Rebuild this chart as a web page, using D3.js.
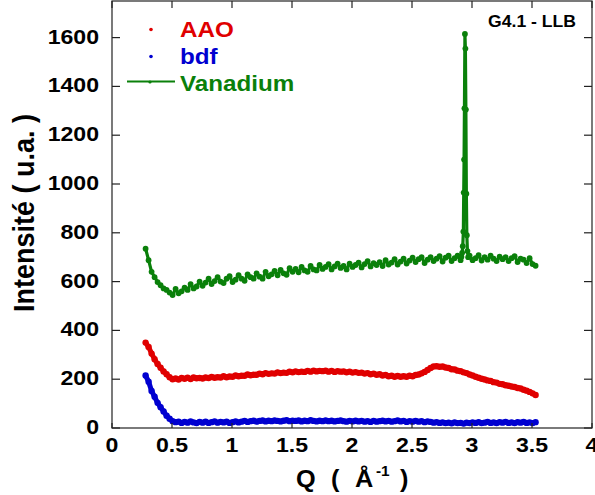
<!DOCTYPE html>
<html><head><meta charset="utf-8">
<script src="https://cdn.jsdelivr.net/npm/d3@7/dist/d3.min.js"></script>
<style>body{margin:0;background:#fff}svg{display:block}</style>
</head><body>
<script>
const qValues = [
0.28,0.305,0.33,0.355,0.38,0.405,0.43,0.455,0.48,0.505,
0.53,0.555,0.58,0.605,0.63,0.655,0.68,0.705,0.73,0.755,
0.78,0.805,0.83,0.855,0.88,0.905,0.93,0.955,0.98,1.005,
1.03,1.055,1.08,1.105,1.13,1.155,1.18,1.205,1.23,1.255,
1.28,1.305,1.33,1.355,1.38,1.405,1.43,1.455,1.48,1.505,
1.53,1.555,1.58,1.605,1.63,1.655,1.68,1.705,1.73,1.755,
1.78,1.805,1.83,1.855,1.88,1.905,1.93,1.955,1.98,2.005,
2.03,2.055,2.08,2.105,2.13,2.155,2.18,2.205,2.23,2.255,
2.28,2.305,2.33,2.355,2.38,2.405,2.43,2.455,2.48,2.505,
2.53,2.555,2.58,2.605,2.63,2.655,2.68,2.705,2.73,2.755,
2.78,2.805,2.83,2.855,2.88,2.905,2.93,2.955,2.98,3.005,
3.03,3.055,3.08,3.105,3.13,3.155,3.18,3.205,3.23,3.255,
3.28,3.305,3.33,3.355,3.38,3.405,3.43,3.455,3.48,3.505,
3.53];

const aaoValues = [
350,332,305,282,262,247,232,220,208,200,
203,199,205,202,206,201,207,204,205,203,
207,205,209,206,208,207,212,208,211,210,
215,212,214,214,219,216,218,218,223,220,
225,222,224,223,228,225,227,226,231,228,
232,229,231,230,234,231,235,232,234,233,
235,231,234,230,233,231,232,228,231,227,
229,226,227,223,225,220,223,218,220,215,
217,212,214,210,213,210,212,210,214,212,
217,219,224,230,238,246,252,253,251,252,
248,246,241,240,235,233,228,225,219,215,
210,206,202,199,195,193,188,186,181,179,
175,173,170,168,164,162,157,153,148,142,
135];

const bdfValues = [
215,190,152,128,103,85,68,50,38,28,
24,26,21,25,22,27,23,20,25,22,
26,21,24,27,22,25,23,26,21,24,
27,23,26,29,25,28,30,26,29,31,
27,30,28,31,29,27,30,32,28,30,
29,31,27,30,28,32,29,27,30,28,
31,28,30,27,29,31,28,26,29,27,
30,27,29,26,28,25,29,26,28,30,
27,29,26,28,31,27,29,25,28,26,
29,26,28,24,27,25,22,24,21,23,
20,22,19,23,20,21,18,22,20,23,
21,24,20,22,25,21,23,20,24,22,
25,21,23,20,24,22,25,21,23,20,
24];

const vanadiumValues = [
735,688,640,618,598,585,572,566,555,545,
570,552,560,575,566,590,572,580,600,583,
596,612,590,602,618,600,594,612,622,598,
608,626,612,603,630,618,612,634,620,612,
640,622,630,644,626,648,634,628,655,640,
652,638,660,646,640,664,650,646,668,652,
660,672,650,662,674,656,664,650,674,660,
668,678,658,672,684,662,676,668,680,664,
688,670,678,692,670,682,694,674,686,698,
680,692,700,676,690,700,684,694,704,682,
698,706,684,696,706,688,null,null,706,688,
696,708,686,700,690,706,694,684,702,692,
700,684,696,704,680,694,690,676,696,672,
665];

const vanPeakQ = [2.912,2.918,2.923,2.928,2.931,2.934,2.937,2.941,2.945,2.949,2.953,2.957,2.962,2.968];
const vanPeakValues = [702,718,745,805,965,1100,1310,1615,1555,1305,960,790,725,700];

const xTicks = [0,0.5,1,1.5,2,2.5,3,3.5,4];
const xTickLabels = ["0","0.5","1","1.5","2","2.5","3","3.5","4"];
const yTicks = [0,200,400,600,800,1000,1200,1400,1600];
const yTickLabels = ["0","200","400","600","800","1000","1200","1400","1600"];
const seriesNames = ["AAO","bdf","Vanadium"];
const seriesColors = ["#e00000","#0000d0","#0a800a"];

const W = 595, H = 495;
const FONT = "'Liberation Sans', Arial, sans-serif";
const SX = 1.1;
const svg = d3.select("body").append("svg").attr("width", W).attr("height", H);

const x = d3.scaleLinear().domain([0, 4]).range([112, 592]);
const y = d3.scaleLinear().domain([0, 1750]).range([428, 1]);

function txt(px, py, str, size, anchor, color) {
  const g = svg.append("g").attr("transform", `translate(${px},${py}) scale(${SX},1)`);
  return g.append("text").attr("text-anchor", anchor || "start")
    .attr("font-family", FONT).attr("font-weight", "bold")
    .attr("font-size", size).attr("fill", color || "#000").text(str);
}

// series
const aao = qValues.map((q, i) => ({q, v: aaoValues[i]}));
const bdf = qValues.map((q, i) => ({q, v: bdfValues[i]}));
const van = qValues.map((q, i) => ({q, v: vanadiumValues[i]})).filter(d => d.v !== null)
  .concat(vanPeakQ.map((q, i) => ({q, v: vanPeakValues[i]})))
  .sort((a, b) => a.q - b.q);

const line = d3.line().x(d => x(d.q)).y(d => y(d.v));
const plot = svg.append("g");

function drawSeries(data, color, lw, r) {
  plot.append("path").datum(data).attr("d", line).attr("fill", "none")
    .attr("stroke", color).attr("stroke-width", lw).attr("stroke-linejoin", "round");
  plot.selectAll(null).data(data).enter().append("circle")
    .attr("cx", d => x(d.q)).attr("cy", d => y(d.v)).attr("r", r).attr("fill", color);
}
drawSeries(aao, seriesColors[0], 5, 3.2);
drawSeries(bdf, seriesColors[1], 5, 3.2);
drawSeries(van, seriesColors[2], 3.2, 2.9);

// frame
const fr = svg.append("g").attr("stroke", "#222").attr("stroke-width", 1.2).attr("fill", "none");
fr.append("rect").attr("x", x(0)).attr("y", y(1750)).attr("width", x(4) - x(0)).attr("height", y(0) - y(1750));

// ticks
const tk = svg.append("g").attr("stroke", "#222").attr("stroke-width", 1.2);
xTicks.forEach(t => {
  tk.append("line").attr("x1", x(t)).attr("x2", x(t)).attr("y1", y(0)).attr("y2", y(0) - 5);
  tk.append("line").attr("x1", x(t)).attr("x2", x(t)).attr("y1", y(1750)).attr("y2", y(1750) + 7);
});
yTicks.forEach(t => {
  tk.append("line").attr("x1", x(0)).attr("x2", x(0) + 8).attr("y1", y(t)).attr("y2", y(t));
  tk.append("line").attr("x1", x(4)).attr("x2", x(4) - 8).attr("y1", y(t)).attr("y2", y(t));
});

// tick labels
xTicks.forEach((t, i) => txt(x(t), 452, xTickLabels[i], 21, "middle"));
yTicks.forEach((t, i) => txt(99, y(t) + 6, yTickLabels[i], 21, "end"));

// x axis title
txt(296, 487, "Q", 23, "start");
txt(331, 487, "(", 23, "start");
txt(355, 487, "Å", 23, "start");
txt(376, 476, "-1", 14, "start");
txt(400, 487, ")", 23, "start");

// y axis title
svg.append("g").attr("transform", `translate(34,213) scale(${SX},1) rotate(-90)`)
  .append("text").attr("text-anchor", "middle").attr("font-family", FONT)
  .attr("font-weight", "bold").attr("font-size", 27).text("Intensité ( u.a. )");

// annotation
txt(532, 27, "G4.1 - LLB", 16, "middle");

// legend
svg.append("circle").attr("cx", 151).attr("cy", 29.5).attr("r", 1.8).attr("fill", seriesColors[0]);
svg.append("circle").attr("cx", 151).attr("cy", 56.5).attr("r", 1.8).attr("fill", seriesColors[1]);
svg.append("line").attr("x1", 127).attr("x2", 175).attr("y1", 81.5).attr("y2", 81.5)
  .attr("stroke", seriesColors[2]).attr("stroke-width", 2);
svg.append("circle").attr("cx", 150).attr("cy", 82).attr("r", 1.6).attr("fill", seriesColors[2]);
txt(180, 37, seriesNames[0], 22, "start", seriesColors[0]);
txt(180, 64, seriesNames[1], 22, "start", seriesColors[1]);
txt(180, 91, seriesNames[2], 22, "start", seriesColors[2]);
</script>
</body></html>
